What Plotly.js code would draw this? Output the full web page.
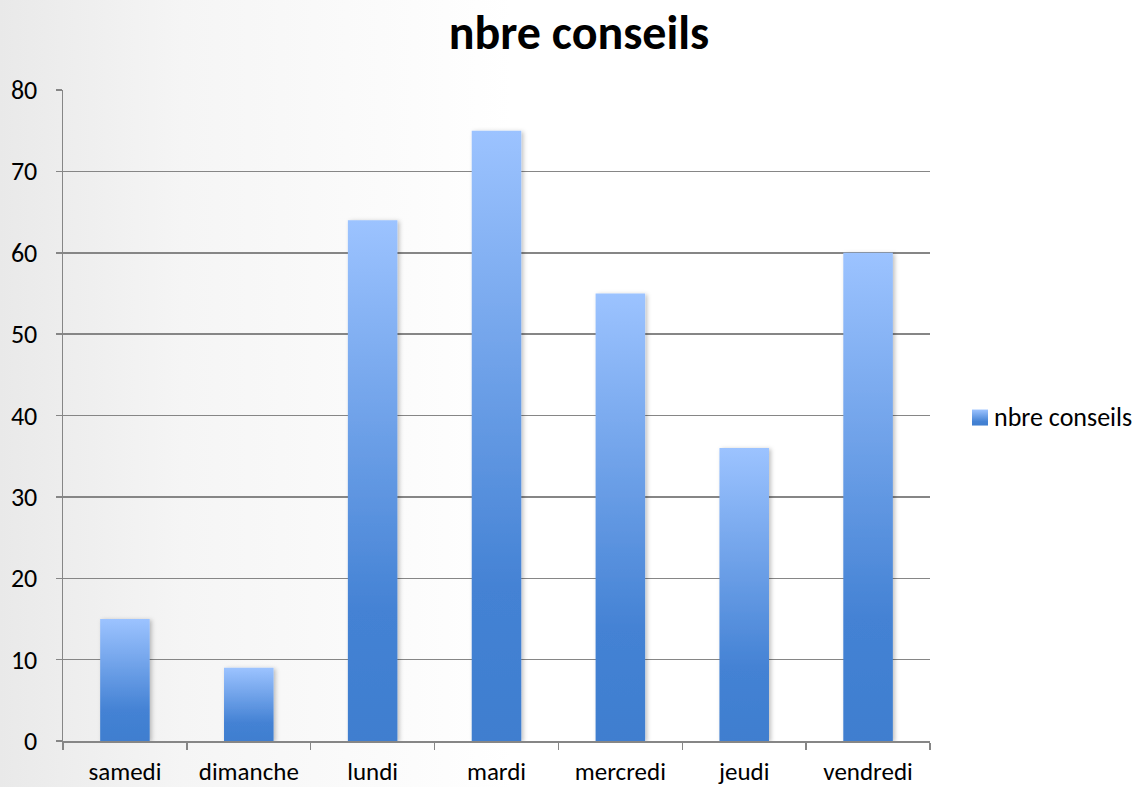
<!DOCTYPE html>
<html>
<head>
<meta charset="utf-8">
<script src="https://cdn.plot.ly/plotly-3.0.1.min.js"></script>
<style>
  html, body { margin:0; padding:0; }
  body { width:1138px; height:787px; background: linear-gradient(90deg, #e9e9e9 0%, #f5f5f5 16%, #ffffff 45%, #ffffff 100%); }
  #chart { width:1138px; height:787px; }
</style>
</head>
<body>
<div id="chart"></div>
<script>
const categories = ["samedi", "dimanche", "lundi", "mardi", "mercredi", "jeudi", "vendredi"];
const seriesName = "nbre conseils";
const values = [15, 9, 64, 75, 55, 36, 60];
const yTicks = [0, 10, 20, 30, 40, 50, 60, 70, 80];

const FONT = "Carlito, Lato, 'Open Sans', sans-serif";

const trace = {
  type: "bar",
  name: seriesName,
  x: categories,
  y: values,
  marker: { color: "#5b93e0", line: { width: 0 } },
  showlegend: true,
  hoverinfo: "x+y"
};

const layout = {
  width: 1138,
  height: 787,
  paper_bgcolor: "rgba(0,0,0,0)",
  plot_bgcolor: "rgba(0,0,0,0)",
  margin: { l: 63, r: 208, t: 90, b: 46 },
  bargap: 0.6,
  font: { family: FONT, size: 26, color: "#000" },
  title: {
    text: "<b>nbre conseils</b>",
    font: { family: FONT, size: 48, color: "#000" },
    x: 0.5088, xref: "container", xanchor: "center",
    y: 0.959, yref: "container", yanchor: "middle"
  },
  xaxis: {
    type: "category",
    showline: true, linecolor: "#868686", linewidth: 1.5,
    ticks: "outside", tickson: "boundaries", ticklen: 7, tickcolor: "#868686", tickwidth: 1.5,
    showgrid: false, zeroline: false,
    tickfont: { family: FONT, size: 25, color: "#000" },
    ticklabelstandoff: 7
  },
  yaxis: {
    range: [0, 80], tickvals: yTicks, ticktext: yTicks.map(String),
    showline: true, linecolor: "#868686", linewidth: 1.5,
    ticks: "outside", ticklen: 6, tickcolor: "#868686", tickwidth: 1.5,
    showgrid: true, gridcolor: "#868686", gridwidth: 1.5,
    zeroline: false,
    tickfont: { family: FONT, size: 26, color: "#000" },
    ticklabelstandoff: 13
  },
  legend: {
    x: 1.0, y: 0.5, xanchor: "left", yanchor: "middle",
    bgcolor: "rgba(0,0,0,0)",
    font: { family: FONT, size: 26, color: "#000" },
    itemwidth: 30
  }
};

Plotly.newPlot("chart", [trace], layout, { displayModeBar: false, staticPlot: true }).then(function (gd) {
  const svgNS = "http://www.w3.org/2000/svg";
  const svg = gd.querySelector(".main-svg");
  let defs = svg.querySelector("defs");
  if (!defs) { defs = document.createElementNS(svgNS, "defs"); svg.insertBefore(defs, svg.firstChild); }
  const grad = document.createElementNS(svgNS, "linearGradient");
  grad.setAttribute("id", "barGrad");
  grad.setAttribute("x1", "0"); grad.setAttribute("y1", "0");
  grad.setAttribute("x2", "0"); grad.setAttribute("y2", "1");
  [["0", "#9cc3ff"], ["0.75", "#4482d4"], ["1", "#3f7ecf"]].forEach(function (s) {
    const st = document.createElementNS(svgNS, "stop");
    st.setAttribute("offset", s[0]); st.setAttribute("stop-color", s[1]);
    grad.appendChild(st);
  });
  defs.appendChild(grad);
  const filt = document.createElementNS(svgNS, "filter");
  filt.setAttribute("id", "barShadow");
  filt.setAttribute("x", "-20%"); filt.setAttribute("y", "-5%");
  filt.setAttribute("width", "140%"); filt.setAttribute("height", "110%");
  filt.innerHTML = '<feDropShadow dx="2" dy="1" stdDeviation="2" flood-color="#000" flood-opacity="0.25"/>';
  defs.appendChild(filt);
  gd.querySelectorAll(".bars .point path").forEach(function (p) {
    p.style.fill = "url(#barGrad)";
    p.setAttribute("filter", "url(#barShadow)");
  });
  // Legend: place text start at x=994 and a 16px square just before it
  const legendText = gd.querySelector(".legend .legendtext");
  const legendPts = gd.querySelector(".legend .legendpoints");
  if (legendText && legendPts) {
    const tb = legendText.getBoundingClientRect();
    const shiftX = 994 - tb.left;
    const leg = gd.querySelector(".legend");
    const cur = leg.getAttribute("transform") || "";
    leg.setAttribute("transform", cur + " translate(" + shiftX + ",0)");
    const tb2 = legendText.getBoundingClientRect();
    const pb = legendPts.querySelector("path").getBoundingClientRect();
    const targetCx = tb2.left - 6 - 8;
    const targetCy = tb2.top + tb2.height / 2 + 1;
    const dx = targetCx - (pb.left + pb.width / 2);
    const dy = targetCy - (pb.top + pb.height / 2);
    legendPts.querySelectorAll("path").forEach(function (p) {
      p.style.fill = "url(#barGrad)";
      p.setAttribute("d", "M8,8H-8V-8H8Z");
    });
    legendPts.setAttribute("transform", (legendPts.getAttribute("transform") || "") + " translate(" + dx + "," + dy + ")");
  }
});
</script>
</body>
</html>
